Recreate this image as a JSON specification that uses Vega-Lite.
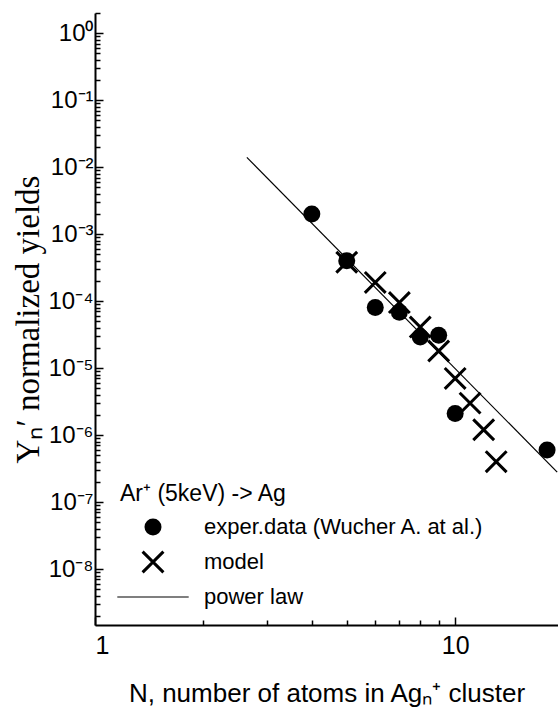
{
  "$schema": "https://vega.github.io/schema/vega-lite/v6.json",
  "width": 463,
  "height": 612,
  "autosize": {"type": "none"},
  "padding": {"left": 95, "top": 13, "right": 0, "bottom": 92},
  "background": "white",
  "config": {
    "view": {"stroke": null},
    "font": "Liberation Sans",
    "axis": {
      "grid": false,
      "domainColor": "black",
      "domainWidth": 2,
      "tickColor": "black",
      "tickWidth": 1.5,
      "labelColor": "black",
      "labelFont": "Liberation Sans",
      "titleColor": "black",
      "titleFontWeight": "normal"
    },
    "legend": {
      "symbolFillColor": "black",
      "symbolStrokeWidth": 0,
      "symbolSize": 289
    }
  },
  "datasets": {
    "powerlaw": [
      {"N": 2.64, "Y": 0.014},
      {"N": 19.2, "Y": 2.8e-7}
    ],
    "points": [
      {"series": "exper.data (Wucher A. at al.)", "N": 4, "Y": 0.002},
      {"series": "exper.data (Wucher A. at al.)", "N": 5, "Y": 0.0004},
      {"series": "exper.data (Wucher A. at al.)", "N": 6, "Y": 8e-5},
      {"series": "exper.data (Wucher A. at al.)", "N": 7, "Y": 6.8e-5},
      {"series": "exper.data (Wucher A. at al.)", "N": 8, "Y": 2.9e-5},
      {"series": "exper.data (Wucher A. at al.)", "N": 9, "Y": 3.1e-5},
      {"series": "exper.data (Wucher A. at al.)", "N": 10, "Y": 2.1e-6},
      {"series": "exper.data (Wucher A. at al.)", "N": 18, "Y": 6e-7},
      {"series": "model", "N": 5, "Y": 0.00038},
      {"series": "model", "N": 6, "Y": 0.00019},
      {"series": "model", "N": 7, "Y": 9.5e-5},
      {"series": "model", "N": 8, "Y": 4.1e-5},
      {"series": "model", "N": 9, "Y": 1.8e-5},
      {"series": "model", "N": 10, "Y": 7e-6},
      {"series": "model", "N": 11, "Y": 3e-6},
      {"series": "model", "N": 12, "Y": 1.2e-6},
      {"series": "model", "N": 13, "Y": 4e-7}
    ]
  },
  "encoding": {
    "x": {
      "field": "N",
      "type": "quantitative",
      "scale": {"type": "log", "domain": [1, 19.3], "nice": false, "zero": false},
      "axis": {
        "title": "N, number of atoms in Agₙ⁺ cluster",
        "titleFont": "Liberation Sans",
        "titleFontSize": 26,
        "titlePadding": 22,
        "values": [1, 2, 3, 4, 5, 6, 7, 8, 9, 10],
        "labelExpr": "datum.value == 1 || datum.value == 10 ? format(datum.value, 'd') : ''",
        "labelFontSize": 25,
        "labelPadding": 16,
        "tickSize": {"condition": {"test": "datum.value == 1 || datum.value == 10", "value": -8}, "value": -5}
      }
    },
    "y": {
      "field": "Y",
      "type": "quantitative",
      "scale": {"type": "log", "domain": [1.46e-9, 2], "nice": false, "zero": false},
      "axis": {
        "title": "Yₙ′ normalized yields",
        "titleFont": "Liberation Serif",
        "titleFontSize": 33,
        "titlePadding": 2,
        "values": [2e-9, 3e-9, 4e-9, 5e-9, 6e-9, 7e-9, 8e-9, 9e-9,
                   1e-8, 2e-8, 3e-8, 4e-8, 5e-8, 6e-8, 7e-8, 8e-8, 9e-8,
                   1e-7, 2e-7, 3e-7, 4e-7, 5e-7, 6e-7, 7e-7, 8e-7, 9e-7,
                   1e-6, 2e-6, 3e-6, 4e-6, 5e-6, 6e-6, 7e-6, 8e-6, 9e-6,
                   1e-5, 2e-5, 3e-5, 4e-5, 5e-5, 6e-5, 7e-5, 8e-5, 9e-5,
                   1e-4, 2e-4, 3e-4, 4e-4, 5e-4, 6e-4, 7e-4, 8e-4, 9e-4,
                   1e-3, 2e-3, 3e-3, 4e-3, 5e-3, 6e-3, 7e-3, 8e-3, 9e-3,
                   1e-2, 2e-2, 3e-2, 4e-2, 5e-2, 6e-2, 7e-2, 8e-2, 9e-2,
                   1e-1, 2e-1, 3e-1, 4e-1, 5e-1, 6e-1, 7e-1, 8e-1, 9e-1,
                   1, 2],
        "labelExpr": "abs(log(datum.value)/LN10 - round(log(datum.value)/LN10)) < 1e-6 ? ('10' + ['⁰','⁻¹','⁻²','⁻³','⁻⁴','⁻⁵','⁻⁶','⁻⁷','⁻⁸','⁻⁹'][abs(round(log(datum.value)/LN10))]) : ''",
        "labelFontSize": 24,
        "labelPadding": 10,
        "tickSize": {"condition": {"test": "abs(log(datum.value)/LN10 - round(log(datum.value)/LN10)) < 1e-6", "value": -8}, "value": -5}
      }
    }
  },
  "layer": [
    {
      "data": {"name": "powerlaw"},
      "mark": {"type": "line", "color": "black", "strokeWidth": 1.2}
    },
    {
      "data": {"name": "points"},
      "mark": {"type": "point", "filled": true, "fill": "black", "strokeWidth": 0, "opacity": 1, "size": 289},
      "encoding": {
        "shape": {
          "field": "series",
          "type": "nominal",
          "scale": {
            "domain": ["exper.data (Wucher A. at al.)", "model", "power law"],
            "range": [
              "circle",
              "M-1.35,-1.1L-1.1,-1.35L1.35,1.1L1.1,1.35Z M1.35,-1.1L-1.1,1.35L-1.35,1.1L1.1,-1.35Z",
              "M-4.2,-0.07L4.2,-0.07L4.2,0.07L-4.2,0.07Z"
            ]
          },
          "legend": {
            "title": "Ar⁺ (5keV) -> Ag",
            "orient": "none",
            "legendX": 25,
            "legendY": 470,
            "titleFont": "Liberation Sans",
            "titleFontSize": 23,
            "titleFontWeight": "normal",
            "titleColor": "black",
            "titlePadding": 10,
            "titleLimit": 0,
            "labelFont": "Liberation Sans",
            "labelFontSize": 22,
            "labelColor": "black",
            "labelLimit": 0,
            "labelOffset": 40,
            "symbolOffset": 22,
            "rowPadding": 12,
            "symbolType": "circle"
          }
        }
      }
    }
  ]
}
